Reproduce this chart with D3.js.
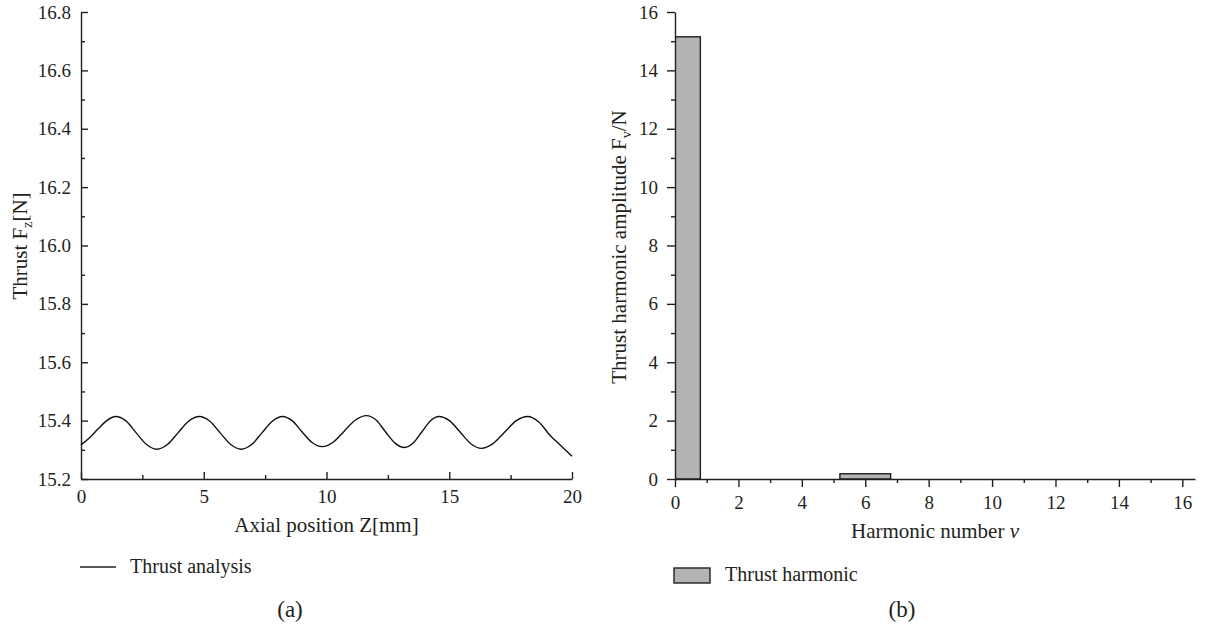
<!DOCTYPE html>
<html lang="en">
<head>
    <meta charset="UTF-8">
    <title>Thrust analysis and harmonics</title>
    <script src="https://d3js.org/d3.v7.min.js"></script>
    <style>
        body {
            margin: 0;
            background: #fff;
        }

        svg text {
            font-family: "Liberation Serif", "Times New Roman", serif;
            fill: #231f20;
        }

        .axis path, .axis line {
            stroke: #231f20;
            stroke-width: 1.4px;
        }

        .title {
            font-size: 21px;
        }

        .legend {
            font-size: 20px;
        }

        .panel {
            font-size: 23px;
        }
    </style>
</head>
<body>
<svg width="1207" height="631"></svg>
<script>
    // (a) thrust along the axial position
    const zPos = [0, 0.35, 0.7, 1.05, 1.4, 1.82, 2.25, 2.67, 3.09, 3.52, 3.95, 4.38, 4.82,
        5.25, 5.67, 6.1, 6.52, 6.95, 7.37, 7.79, 8.21, 8.61, 9.0, 9.41, 9.82, 10.27, 10.72,
        11.18, 11.63, 12.02, 12.4, 12.79, 13.18, 13.53, 13.88, 14.23, 14.58, 15.02, 15.45,
        15.88, 16.31, 16.78, 17.25, 17.72, 18.19, 18.65, 19.1, 19.55, 20];
    const thrust = [15.317, 15.341, 15.372, 15.400, 15.414, 15.400, 15.358, 15.318, 15.302,
        15.318, 15.358, 15.398, 15.414, 15.398, 15.358, 15.318, 15.302, 15.318, 15.358,
        15.398, 15.414, 15.399, 15.362, 15.325, 15.311, 15.326, 15.364, 15.402, 15.417,
        15.402, 15.362, 15.323, 15.308, 15.323, 15.361, 15.399, 15.414, 15.399, 15.36,
        15.321, 15.305, 15.321, 15.36, 15.399, 15.414, 15.395, 15.35, 15.314, 15.278];
    const zTicks = [0, 5, 10, 15, 20];
    const fTicks = [15.2, 15.4, 15.6, 15.8, 16.0, 16.2, 16.4, 16.6, 16.8];

    // (b) harmonic spectrum
    const harmonicOrder = [0, 6];
    const harmonicAmp = [15.15, 0.18];
    const nuTicks = [0, 2, 4, 6, 8, 10, 12, 14, 16];
    const ampTicks = [0, 2, 4, 6, 8, 10, 12, 14, 16];

    const svg = d3.select("svg");
    const barFill = "#b2b3b2";
    const ink = "#231f20";
    const serif = '"Liberation Serif", "Times New Roman", serif';

    const plotTop = 12, plotBottom = 479;

    // d3 puts sans-serif on the axis group, so restyle the labels
    function styleAxis(g) {
        g.attr("font-family", null).attr("font-size", null);
        g.selectAll("text")
            .style("font-family", serif)
            .style("font-size", "19px")
            .style("fill", ink);
    }

    // ---------- left panel ----------
    const xA = d3.scaleLinear().domain([0, 20]).range([81, 572]);
    const yA = d3.scaleLinear().domain([15.2, 16.8]).range([plotBottom, plotTop]);

    const gA = svg.append("g");

    // minor ticks (inward)
    gA.append("g")
        .attr("class", "axis")
        .attr("transform", `translate(0,${plotBottom})`)
        .call(d3.axisBottom(xA).tickValues([2.5, 7.5, 12.5, 17.5]).tickSizeInner(-4).tickSizeOuter(0).tickFormat(""))
        .call(g => g.select(".domain").remove());
    gA.append("g")
        .attr("class", "axis")
        .attr("transform", `translate(${xA(0)},0)`)
        .call(d3.axisLeft(yA).tickValues(d3.range(15.3, 16.8, 0.2).map(v => +v.toFixed(1))).tickSizeInner(-4).tickSizeOuter(0).tickFormat(""))
        .call(g => g.select(".domain").remove());

    gA.append("g")
        .attr("class", "axis")
        .attr("transform", `translate(0,${plotBottom})`)
        .call(d3.axisBottom(xA).tickValues(zTicks).tickSizeInner(-7).tickSizeOuter(0).tickPadding(11))
        .call(styleAxis);
    gA.append("g")
        .attr("class", "axis")
        .attr("transform", `translate(${xA(0)},0)`)
        .call(d3.axisLeft(yA).tickValues(fTicks).tickFormat(d3.format(".1f")).tickSizeInner(-7).tickSizeOuter(0).tickPadding(10))
        .call(styleAxis);

    const line = d3.line()
        .x((d, i) => xA(zPos[i]))
        .y(d => yA(d))
        .curve(d3.curveMonotoneX);

    gA.append("path")
        .datum(thrust)
        .attr("fill", "none")
        .attr("stroke", "#111")
        .attr("stroke-width", 1.4)
        .attr("d", line);

    gA.append("text")
        .attr("class", "title")
        .attr("x", (xA(0) + xA(20)) / 2)
        .attr("y", 532)
        .attr("text-anchor", "middle")
        .text("Axial position Z[mm]");

    const tA = gA.append("text")
        .attr("class", "title")
        .attr("transform", "translate(27,246) rotate(-90)")
        .attr("text-anchor", "middle");
    tA.append("tspan").text("Thrust F");
    tA.append("tspan").attr("dy", 5).attr("font-size", 14).text("z");
    tA.append("tspan").attr("dy", -5).text("[N]");

    // legend (a)
    gA.append("line")
        .attr("x1", 80).attr("x2", 116)
        .attr("y1", 567).attr("y2", 567)
        .attr("stroke", ink).attr("stroke-width", 1.4);
    gA.append("text")
        .attr("class", "legend")
        .attr("x", 130).attr("y", 573)
        .text("Thrust analysis");
    gA.append("text")
        .attr("class", "panel")
        .attr("x", 290).attr("y", 617)
        .attr("text-anchor", "middle")
        .text("(a)");

    // ---------- right panel ----------
    const xB = d3.scaleLinear().domain([0, 16.4]).range([675, 1195]);
    const yB = d3.scaleLinear().domain([0, 16]).range([plotBottom, plotTop]);
    const barW = 1.6;

    const gB = svg.append("g");

    svg.append("defs").append("clipPath")
        .attr("id", "plotB")
        .append("rect")
        .attr("x", xB(0)).attr("y", plotTop - 5)
        .attr("width", xB(16.4) - xB(0)).attr("height", plotBottom - plotTop + 10);

    gB.append("g")
        .attr("clip-path", "url(#plotB)")
        .selectAll("rect")
        .data(harmonicAmp)
        .enter().append("rect")
        .attr("x", (d, i) => xB(harmonicOrder[i] - barW / 2))
        .attr("width", xB(barW) - xB(0))
        .attr("y", d => yB(d))
        .attr("height", d => yB(0) - yB(d))
        .attr("fill", barFill)
        .attr("stroke", ink)
        .attr("stroke-width", 1.4);

    gB.append("g")
        .attr("class", "axis")
        .attr("transform", `translate(0,${plotBottom})`)
        .call(d3.axisBottom(xB).tickValues(d3.range(1, 16, 2)).tickSizeInner(4).tickSizeOuter(0).tickFormat(""))
        .call(g => g.select(".domain").remove());
    gB.append("g")
        .attr("class", "axis")
        .attr("transform", `translate(${xB(0)},0)`)
        .call(d3.axisLeft(yB).tickValues(d3.range(1, 16, 2)).tickSizeInner(4).tickSizeOuter(0).tickFormat(""))
        .call(g => g.select(".domain").remove());

    gB.append("g")
        .attr("class", "axis")
        .attr("transform", `translate(0,${plotBottom})`)
        .call(d3.axisBottom(xB).tickValues(nuTicks).tickSizeInner(8).tickSizeOuter(0).tickPadding(9))
        .call(styleAxis);
    gB.append("g")
        .attr("class", "axis")
        .attr("transform", `translate(${xB(0)},0)`)
        .call(d3.axisLeft(yB).tickValues(ampTicks).tickSizeInner(8).tickSizeOuter(0).tickPadding(9))
        .call(styleAxis);

    const tBx = gB.append("text")
        .attr("class", "title")
        .attr("x", 935)
        .attr("y", 538)
        .attr("text-anchor", "middle");
    tBx.append("tspan").text("Harmonic number ");
    tBx.append("tspan").attr("font-style", "italic").text("ν");

    const tB = gB.append("text")
        .attr("class", "title")
        .attr("transform", "translate(626,247) rotate(-90)")
        .attr("text-anchor", "middle");
    tB.append("tspan").text("Thrust harmonic amplitude F");
    tB.append("tspan").attr("dy", 5).attr("font-size", 14).text("v");
    tB.append("tspan").attr("dy", -5).text("/N");

    // legend (b)
    gB.append("rect")
        .attr("x", 674).attr("y", 568)
        .attr("width", 36).attr("height", 15)
        .attr("fill", barFill)
        .attr("stroke", ink).attr("stroke-width", 1.4);
    gB.append("text")
        .attr("class", "legend")
        .attr("x", 725).attr("y", 581)
        .text("Thrust harmonic");
    gB.append("text")
        .attr("class", "panel")
        .attr("x", 902).attr("y", 617)
        .attr("text-anchor", "middle")
        .text("(b)");
</script>
</body>
</html>
